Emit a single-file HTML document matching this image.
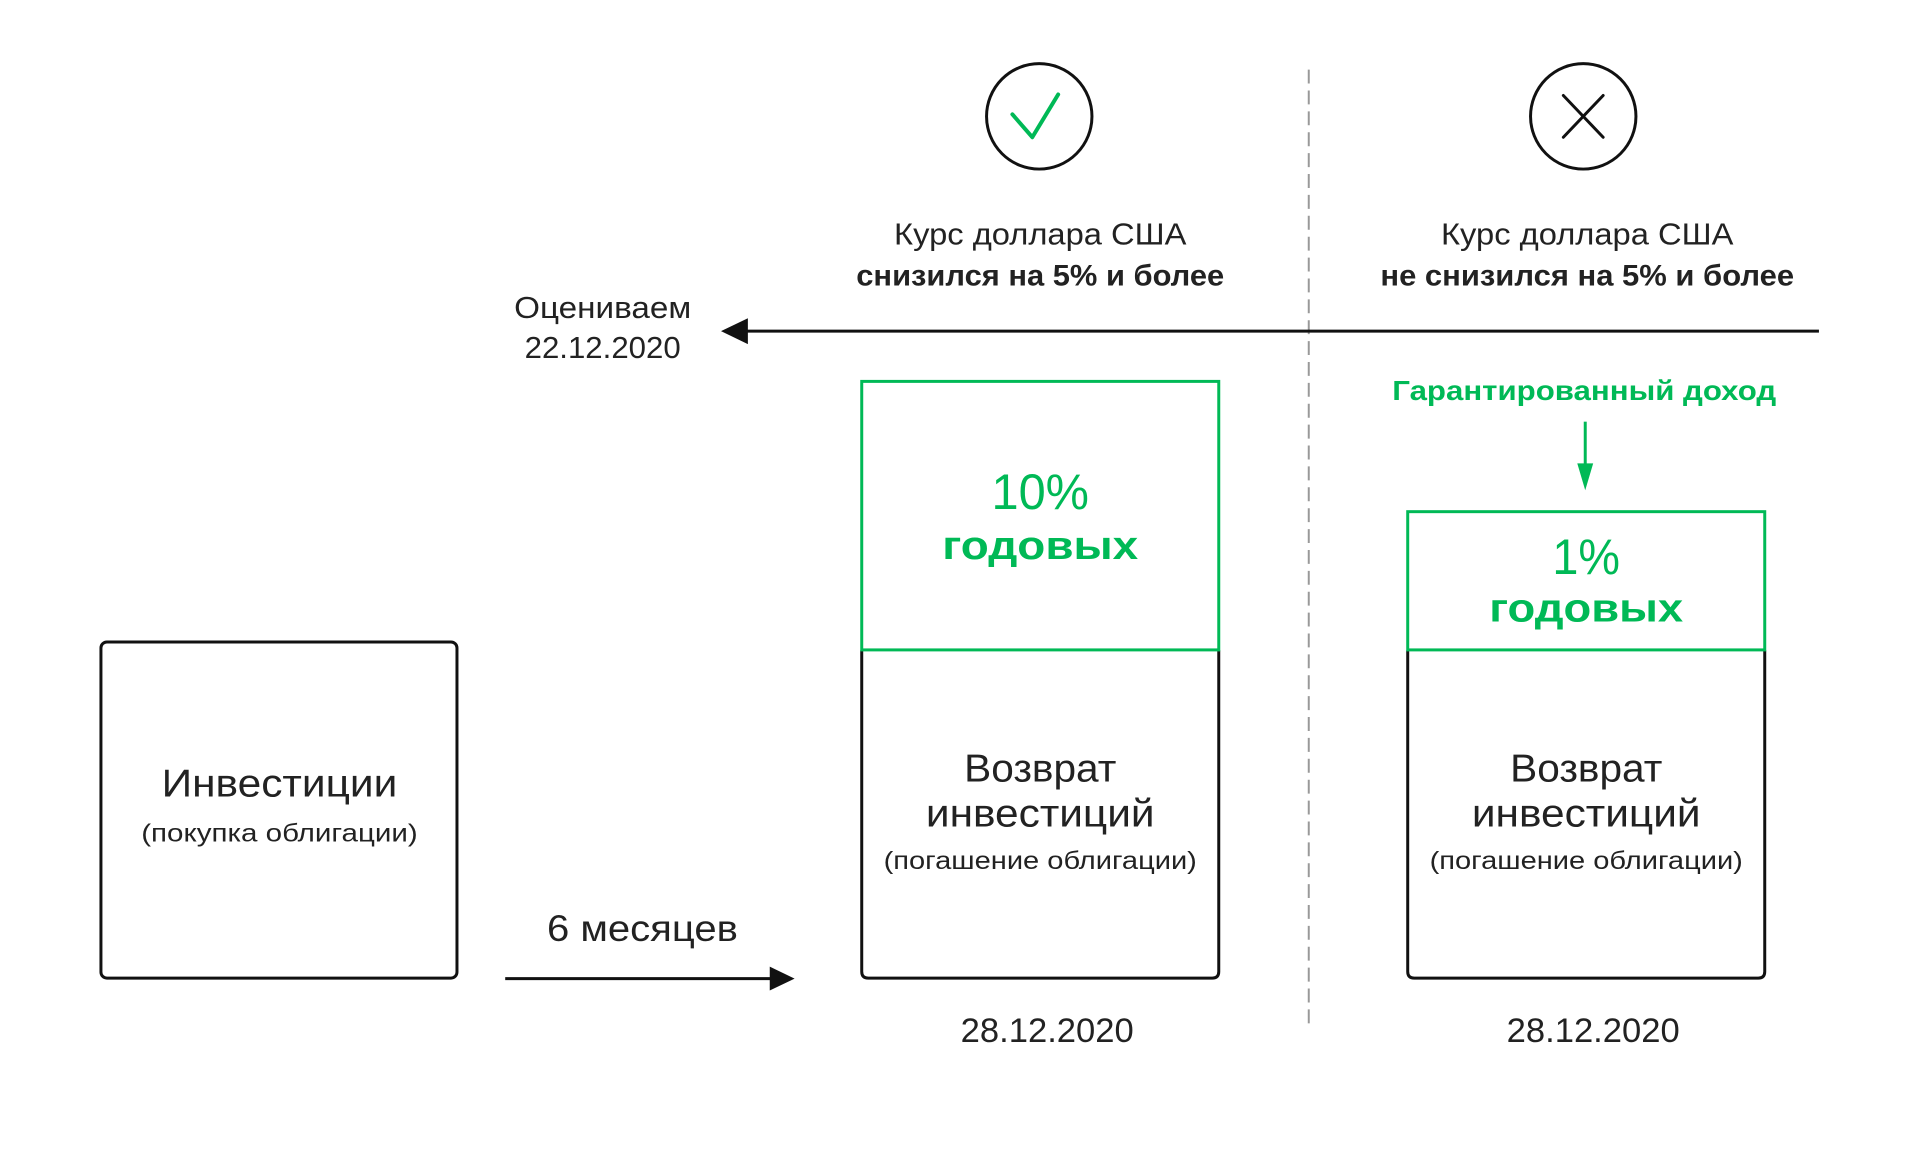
<!DOCTYPE html>
<html><head><meta charset="utf-8"><style>
html,body{margin:0;padding:0;background:#fff;}
svg{display:block;}
text{font-family:"Liberation Sans","DejaVu Sans",sans-serif;}
</style></head><body>
<svg width="1928" height="1160" viewBox="0 0 1928 1160" xmlns="http://www.w3.org/2000/svg">
<rect width="1928" height="1160" fill="#fff"/>
<g transform="scale(0.9945)">
<line x1="1316" y1="70" x2="1316" y2="1036" stroke="#999" stroke-width="2" stroke-dasharray="14 7"/>
<circle cx="1045" cy="117" r="53" fill="none" stroke="#111" stroke-width="3"/>
<polyline points="1018,115 1038,138 1064,95" fill="none" stroke="#00b956" stroke-width="4" stroke-linecap="round" stroke-linejoin="round"/>
<circle cx="1592" cy="117" r="53" fill="none" stroke="#111" stroke-width="3"/>
<line x1="1572" y1="96" x2="1612" y2="138" stroke="#111" stroke-width="3" stroke-linecap="round"/>
<line x1="1612" y1="96" x2="1572" y2="138" stroke="#111" stroke-width="3" stroke-linecap="round"/>
<text x="1046" y="246" font-size="31" text-anchor="middle" fill="#222" textLength="294" lengthAdjust="spacingAndGlyphs">Курс доллара США</text>
<text x="1046" y="287" font-size="30" font-weight="bold" text-anchor="middle" fill="#222" textLength="370" lengthAdjust="spacingAndGlyphs">снизился на 5% и более</text>
<text x="1596" y="246" font-size="31" text-anchor="middle" fill="#222" textLength="294" lengthAdjust="spacingAndGlyphs">Курс доллара США</text>
<text x="1596" y="287" font-size="30" font-weight="bold" text-anchor="middle" fill="#222" textLength="416" lengthAdjust="spacingAndGlyphs">не снизился на 5% и более</text>
<text x="606" y="320" font-size="31" text-anchor="middle" fill="#222" textLength="178" lengthAdjust="spacingAndGlyphs">Оцениваем</text>
<text x="606" y="360" font-size="31" text-anchor="middle" fill="#222" textLength="157" lengthAdjust="spacingAndGlyphs">22.12.2020</text>
<line x1="745" y1="333" x2="1829" y2="333" stroke="#111" stroke-width="3"/>
<polygon points="725,333 752,320 752,346" fill="#111"/>
<text x="1593" y="402" font-size="28" font-weight="bold" text-anchor="middle" fill="#00b956" textLength="386" lengthAdjust="spacingAndGlyphs">Гарантированный доход</text>
<line x1="1594" y1="424" x2="1594" y2="472" stroke="#00b956" stroke-width="3"/>
<polygon points="1594,493 1586,466 1602,466" fill="#00b956"/>
<rect x="101.5" y="645.5" width="358" height="338" rx="6" fill="none" stroke="#111" stroke-width="3"/>
<text x="281" y="801" font-size="39" text-anchor="middle" fill="#222" textLength="237" lengthAdjust="spacingAndGlyphs">Инвестиции</text>
<text x="281" y="846" font-size="25" text-anchor="middle" fill="#222" textLength="278" lengthAdjust="spacingAndGlyphs">(покупка облигации)</text>
<line x1="508" y1="984" x2="780" y2="984" stroke="#111" stroke-width="3"/>
<polygon points="799,984 774,972 774,996" fill="#111"/>
<text x="646" y="946" font-size="37" text-anchor="middle" fill="#222" textLength="192" lengthAdjust="spacingAndGlyphs">6 месяцев</text>
<path d="M866.5,654 L866.5,977 Q866.5,983.5 873,983.5 L1219,983.5 Q1225.5,983.5 1225.5,977 L1225.5,654" fill="none" stroke="#111" stroke-width="3"/>
<rect x="866.5" y="383.5" width="359" height="270" fill="none" stroke="#00b956" stroke-width="3"/>
<text x="1046" y="512" font-size="50" text-anchor="middle" fill="#00b956" textLength="98" lengthAdjust="spacingAndGlyphs">10%</text>
<text x="1046" y="562" font-size="40" font-weight="bold" text-anchor="middle" fill="#00b956" textLength="197" lengthAdjust="spacingAndGlyphs">годовых</text>
<text x="1046" y="786" font-size="39" text-anchor="middle" fill="#222" textLength="153" lengthAdjust="spacingAndGlyphs">Возврат</text>
<text x="1046" y="831" font-size="39" text-anchor="middle" fill="#222" textLength="230" lengthAdjust="spacingAndGlyphs">инвестиций</text>
<text x="1046" y="874" font-size="25" text-anchor="middle" fill="#222" textLength="315" lengthAdjust="spacingAndGlyphs">(погашение облигации)</text>
<text x="1053" y="1048" font-size="34" text-anchor="middle" fill="#222" textLength="174" lengthAdjust="spacingAndGlyphs">28.12.2020</text>
<path d="M1415.5,654 L1415.5,977 Q1415.5,983.5 1422,983.5 L1768,983.5 Q1774.5,983.5 1774.5,977 L1774.5,654" fill="none" stroke="#111" stroke-width="3"/>
<rect x="1415.5" y="514.5" width="359" height="139" fill="none" stroke="#00b956" stroke-width="3"/>
<text x="1595" y="577" font-size="50" text-anchor="middle" fill="#00b956" textLength="68" lengthAdjust="spacingAndGlyphs">1%</text>
<text x="1595" y="625" font-size="40" font-weight="bold" text-anchor="middle" fill="#00b956" textLength="195" lengthAdjust="spacingAndGlyphs">годовых</text>
<text x="1595" y="786" font-size="39" text-anchor="middle" fill="#222" textLength="153" lengthAdjust="spacingAndGlyphs">Возврат</text>
<text x="1595" y="831" font-size="39" text-anchor="middle" fill="#222" textLength="230" lengthAdjust="spacingAndGlyphs">инвестиций</text>
<text x="1595" y="874" font-size="25" text-anchor="middle" fill="#222" textLength="315" lengthAdjust="spacingAndGlyphs">(погашение облигации)</text>
<text x="1602" y="1048" font-size="34" text-anchor="middle" fill="#222" textLength="174" lengthAdjust="spacingAndGlyphs">28.12.2020</text>
</g>
</svg>
</body></html>
